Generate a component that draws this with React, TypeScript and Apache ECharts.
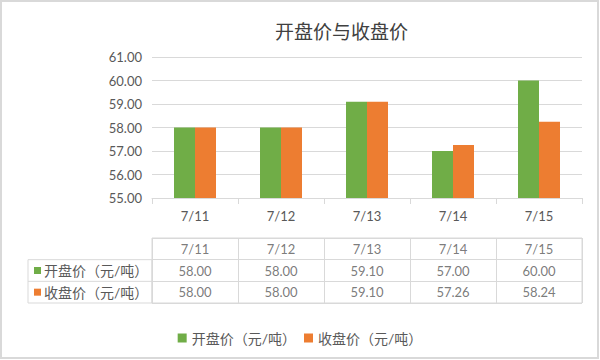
import React, { useEffect, useRef } from "react";
import * as echarts from "echarts";

const categories = ["7/11", "7/12", "7/13", "7/14", "7/15"];
const openName = "开盘价（元/吨）";
const closeName = "收盘价（元/吨）";
const openPrices = [58.0, 58.0, 59.1, 57.0, 60.0];
const closePrices = [58.0, 58.0, 59.1, 57.26, 58.24];
const yTicks = { min: 55, max: 61, interval: 1 };

const GREEN = "#70AD47";
const ORANGE = "#ED7D31";
const TEXT = "#595959";
const LINE = "#d9d9d9";
const FONT = "Lato, 'Noto Sans CJK SC', sans-serif";

export default function App() {
  const ref = useRef<HTMLDivElement>(null);
  useEffect(() => {
    if (!ref.current) return;
    const chart = echarts.init(ref.current, null, { renderer: "svg" });
    const tableTop = 238;
    const tableH = 65;
    const rowH = tableH / 3;
    const tableCells: any[] = [];
    categories.forEach((c, i) => {
      tableCells.push({ value: [i, 0], label: { formatter: c } });
      tableCells.push({ value: [i, 1], label: { formatter: openPrices[i].toFixed(2) } });
      tableCells.push({ value: [i, 2], label: { formatter: closePrices[i].toFixed(2) } });
    });
    const option: any = {
      animation: false,
      backgroundColor: "#fff",
      textStyle: { fontFamily: FONT },
      title: {
        text: "开盘价与收盘价",
        left: 270,
        top: 16,
        textStyle: {
          fontSize: 19,
          fontWeight: "normal",
          color: "#404040",
          fontFamily: "'Noto Sans CJK SC', sans-serif",
        },
      },
      legend: {
        data: [openName, closeName],
        left: "center",
        top: 326,
        icon: "rect",
        itemWidth: 9,
        itemHeight: 9,
        itemGap: 8,
        textStyle: { fontSize: 14, color: TEXT, fontFamily: FONT },
      },
      grid: [
        { left: 152, right: 18, top: 57, bottom: 162 },
        {
          left: 152,
          right: 18,
          top: tableTop,
          height: tableH,
          show: true,
          borderColor: LINE,
          borderWidth: 1,
        },
      ],
      xAxis: [
        {
          type: "category",
          gridIndex: 0,
          data: categories,
          axisLine: { lineStyle: { color: LINE } },
          axisTick: { show: true, length: 6, lineStyle: { color: LINE } },
          axisLabel: { color: TEXT, fontSize: 13, margin: 11, fontFamily: FONT },
        },
        {
          type: "category",
          gridIndex: 1,
          data: categories,
          axisLine: { show: false },
          axisTick: { show: false },
          axisLabel: { show: false },
          splitLine: { show: true, interval: 0, lineStyle: { color: LINE } },
        },
      ],
      yAxis: [
        {
          type: "value",
          gridIndex: 0,
          min: yTicks.min,
          max: yTicks.max,
          interval: yTicks.interval,
          axisLine: { show: false },
          axisTick: { show: false },
          axisLabel: {
            color: TEXT,
            fontSize: 13,
            margin: 10,
            fontFamily: FONT,
            formatter: (v: number) => v.toFixed(2),
          },
          splitLine: { lineStyle: { color: LINE } },
        },
        {
          type: "category",
          gridIndex: 1,
          inverse: true,
          data: ["", openName, closeName],
          axisLine: { show: false },
          axisTick: { show: false },
          splitLine: { show: true, interval: 0, lineStyle: { color: LINE } },
          axisLabel: {
            align: "left",
            margin: 118,
            interval: 0,
            formatter: (v: string, i: number) => {
              if (i === 1) return "{g|}{t|" + v + "}";
              if (i === 2) return "{o|}{t|" + v + "}";
              return "";
            },
            rich: {
              g: { width: 7, height: 7, backgroundColor: GREEN },
              o: { width: 7, height: 7, backgroundColor: ORANGE },
              t: { fontSize: 14, color: TEXT, padding: [0, 0, 0, 3], fontFamily: FONT },
            },
          },
        },
      ],
      series: [
        {
          name: openName,
          type: "bar",
          xAxisIndex: 0,
          yAxisIndex: 0,
          data: openPrices,
          barWidth: 21,
          barGap: "0%",
          itemStyle: { color: GREEN },
        },
        {
          name: closeName,
          type: "bar",
          xAxisIndex: 0,
          yAxisIndex: 0,
          data: closePrices,
          barWidth: 21,
          barGap: "0%",
          itemStyle: { color: ORANGE },
        },
        {
          name: "table",
          type: "scatter",
          xAxisIndex: 1,
          yAxisIndex: 1,
          symbolSize: 1,
          itemStyle: { color: "rgba(0,0,0,0)" },
          silent: true,
          label: {
            show: true,
            position: "inside",
            fontSize: 13,
            color: TEXT,
            fontFamily: FONT,
          },
          data: tableCells,
        },
      ],
      graphic: [
        {
          type: "rect",
          shape: { x: 28, y: tableTop + rowH, width: 124, height: rowH * 2 },
          style: { fill: "none", stroke: LINE, lineWidth: 1 },
          silent: true,
        },
        {
          type: "line",
          shape: { x1: 28, y1: tableTop + rowH * 2, x2: 152, y2: tableTop + rowH * 2 },
          style: { stroke: LINE, lineWidth: 1 },
          silent: true,
        },
        {
          type: "rect",
          shape: { x: 1, y: 1, width: 597, height: 357 },
          style: { fill: "none", stroke: LINE, lineWidth: 2 },
          silent: true,
        },
      ],
    };
    chart.setOption(option);
    return () => chart.dispose();
  }, []);
  return (
    <div
      ref={ref}
      style={{ position: "fixed", left: 0, top: 0, width: 600, height: 360 }}
    />
  );
}
